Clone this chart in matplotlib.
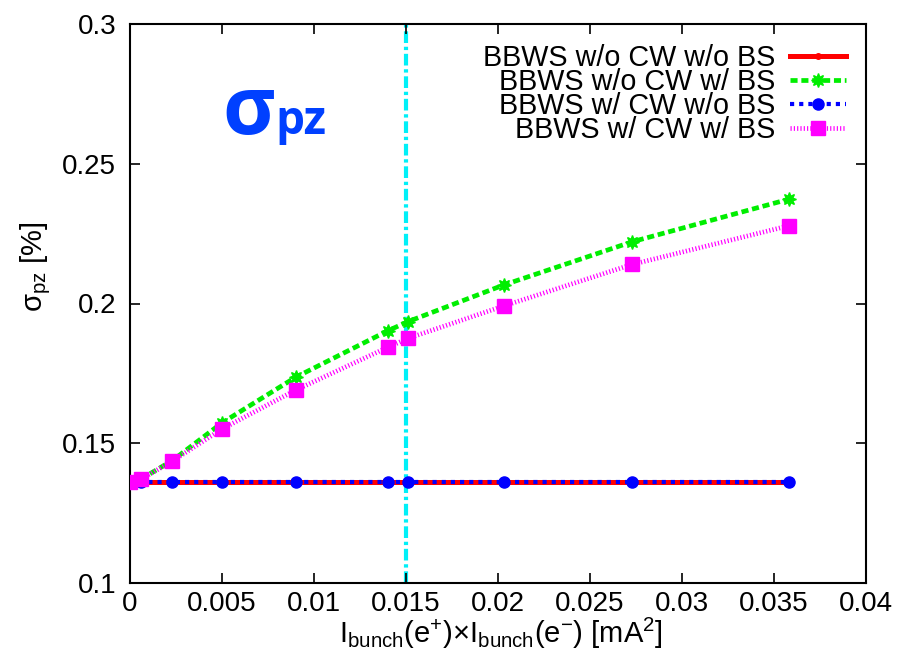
import numpy as np
import matplotlib
matplotlib.use("Agg")
import matplotlib.pyplot as plt

plt.rcParams['font.family'] = ['Liberation Sans', 'DejaVu Sans']
plt.rcParams['mathtext.fontset'] = 'custom'
plt.rcParams['mathtext.rm'] = 'Liberation Sans'
plt.rcParams['mathtext.it'] = 'Liberation Sans:italic'

# bunch current product [mA^2]
lum = [0.0, 0.0006, 0.0023, 0.0050, 0.0090, 0.0140, 0.0151, 0.0203, 0.0273, 0.0358]

# longitudinal momentum spread [%]
noCW_noBS = [0.1362, 0.1362, 0.1362, 0.1362, 0.1362, 0.1362, 0.1362, 0.1362, 0.1362, 0.1362]
noCW_BS = [0.1363, 0.1372, 0.1438, 0.1573, 0.1736, 0.1902, 0.1935, 0.2066, 0.2221, 0.2373]
CW_noBS = [0.1362, 0.1362, 0.1362, 0.1362, 0.1362, 0.1362, 0.1362, 0.1362, 0.1362, 0.1362]
CW_BS = [0.1363, 0.1371, 0.1436, 0.1551, 0.1690, 0.1843, 0.1875, 0.1991, 0.2140, 0.2278]

labels = ["BBWS w/o CW w/o BS", "BBWS w/o CW w/ BS",
          "BBWS w/ CW w/o BS", "BBWS w/ CW w/ BS"]

design_point = 0.015

fig = plt.figure(figsize=(9.08, 6.5), dpi=100)
ax = fig.add_axes([130/908, 67/650, 736/908, 559/650])

ax.axvline(design_point, color='#00f0f8', lw=3.0, dashes=(2.8, 0.9, 0.8, 0.9), zorder=1)

ax.plot(lum, noCW_noBS, '-o', color='red', lw=3.6, ms=4, label=labels[0], zorder=2)
ax.plot(lum, noCW_BS, color='#00ee00', lw=3.4, marker=(8, 1, 0), ms=10,
        dashes=(1.5, 0.8), label=labels[1], zorder=3)
ax.plot(lum, CW_noBS, color='blue', lw=3.0, marker='o', ms=8,
        dashes=(1.0, 1.2), label=labels[2], zorder=4)
ax.plot(lum, CW_BS, color='#ff00ff', lw=3.4, marker='s', ms=10,
        dashes=(0.25, 0.45), label=labels[3], zorder=5)

ax.set_xlim(0, 0.04)
ax.set_ylim(0.1, 0.3)
ax.set_xticks(np.arange(0, 0.0401, 0.005))
ax.set_yticks(np.arange(0.1, 0.3001, 0.05))
ax.xaxis.set_major_formatter(matplotlib.ticker.FormatStrFormatter('%g'))
ax.yaxis.set_major_formatter(matplotlib.ticker.FormatStrFormatter('%g'))
ax.tick_params(direction='in', length=7, width=1.2, top=True, right=True, labelsize=20)
ax.tick_params(axis='y', pad=10)
ax.tick_params(axis='x', pad=6)
for s in ax.spines.values():
    s.set_linewidth(1.5)

ax.set_xlabel(r'I$_{\rm bunch}$(e$^{+}$)×I$_{\rm bunch}$(e$^{-}$) [mA$^{2}$]', fontsize=21)
ax.xaxis.set_label_coords(0.504, -0.058)
ax.set_ylabel(r'σ$_{\rm pz}$ [%]', fontsize=21)
ax.yaxis.set_label_coords(-0.105, 0.565)

ax.text(0.0050, 0.2605, 'σ', fontsize=58, fontweight='bold', color='#0040ff',
        family='Open Sans', ha='left', va='baseline')
ax.text(0.0079, 0.2605, 'pz', fontsize=33, fontweight='bold', color='#0040ff',
        family='Open Sans', ha='left', va='baseline')

ax.legend(loc='upper right', frameon=False, markerfirst=False, fontsize=20.7,
          handlelength=1.95, handletextpad=0.5, labelspacing=-0.14,
          borderaxespad=0.3, numpoints=1)

fig.savefig("out.png", dpi=100)
